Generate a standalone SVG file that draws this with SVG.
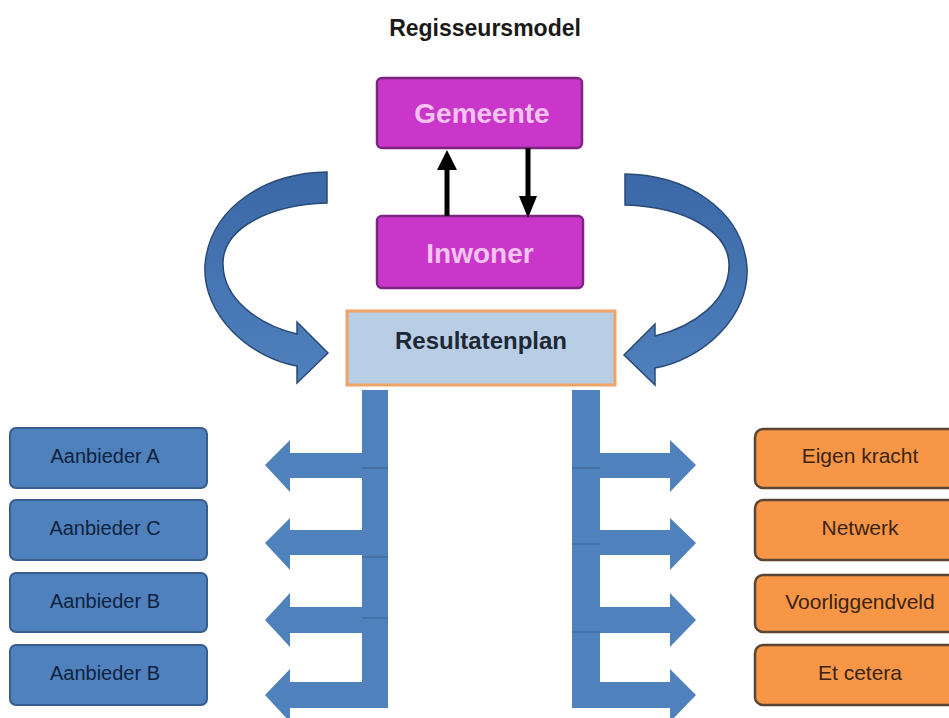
<svg xmlns="http://www.w3.org/2000/svg" width="949" height="718" viewBox="0 0 949 718">
<defs>
<style>
.title{font-family:"Liberation Sans",Arial,sans-serif;font-weight:bold;font-size:23px;fill:#1a1a1a;text-anchor:middle}
.mag{fill:#c936c9;stroke:#7d2580;stroke-width:2.5}
.magt{font-family:"Liberation Sans",Arial,sans-serif;font-weight:bold;font-size:28px;fill:#f6c4f0;text-anchor:middle}
.res{fill:#b9cde5;stroke:#eea466;stroke-width:3}
.rest{font-family:"Liberation Sans",Arial,sans-serif;font-weight:bold;font-size:24px;fill:#1c2836;text-anchor:middle}
.blue{fill:#4f81bd;stroke:#375e8d;stroke-width:2}
.bluet{font-family:"Liberation Sans",Arial,sans-serif;font-size:20px;fill:#0f2240;text-anchor:middle}
.org{fill:#f79646;stroke:#5a4533;stroke-width:2.5}
.orgt{font-family:"Liberation Sans",Arial,sans-serif;font-size:21px;fill:#3a2410;text-anchor:middle}
.barr{fill:#4f81bd}
.sep{stroke:#3a6293;stroke-width:1}
.curve{fill:url(#cg);stroke:#2a4a78;stroke-width:1.5}
</style>
<linearGradient id="cg" x1="0" y1="0" x2="0" y2="1">
<stop offset="0" stop-color="#3b68a6"/>
<stop offset="1" stop-color="#4f81bd"/>
</linearGradient>
</defs>
<rect width="949" height="718" fill="#ffffff"/>
<text class="title" x="485" y="36">Regisseursmodel</text>

<g id="gemeente">
<rect class="mag" x="377" y="78" width="205" height="70" rx="5"/>
<text class="magt" x="482" y="123">Gemeente</text>
</g>
<g id="inwoner">
<rect class="mag" x="377" y="216" width="206" height="72" rx="5"/>
<text class="magt" x="480" y="263">Inwoner</text>
</g>
<g id="resultatenplan">
<rect class="res" x="347" y="311" width="268" height="74"/>
<text class="rest" x="481" y="349">Resultatenplan</text>
</g>

<g id="aanbieder-a"><rect class="blue" x="10" y="428" width="197" height="60" rx="6"/><text class="bluet" x="105" y="463">Aanbieder A</text></g>
<g id="aanbieder-c"><rect class="blue" x="10" y="500" width="197" height="60" rx="6"/><text class="bluet" x="105" y="535">Aanbieder C</text></g>
<g id="aanbieder-b1"><rect class="blue" x="10" y="573" width="197" height="59" rx="6"/><text class="bluet" x="105" y="608">Aanbieder B</text></g>
<g id="aanbieder-b2"><rect class="blue" x="10" y="645" width="197" height="60" rx="6"/><text class="bluet" x="105" y="680">Aanbieder B</text></g>

<g id="eigen-kracht"><rect class="org" x="755" y="429" width="215" height="59" rx="8"/><text class="orgt" x="860" y="463">Eigen kracht</text></g>
<g id="netwerk"><rect class="org" x="755" y="500" width="215" height="60" rx="8"/><text class="orgt" x="860" y="535">Netwerk</text></g>
<g id="voorliggend-veld"><rect class="org" x="755" y="575" width="215" height="57" rx="8"/><text class="orgt" x="860" y="609">Voorliggendveld</text></g>
<g id="et-cetera"><rect class="org" x="755" y="645" width="215" height="60" rx="8"/><text class="orgt" x="860" y="680">Et cetera</text></g>

<g id="connectors">
<line x1="447" y1="216" x2="447" y2="166" stroke="#000" stroke-width="5"/>
<polygon points="447,150 437,170 457,170" fill="#000"/>
<line x1="528" y1="148" x2="528" y2="200" stroke="#000" stroke-width="5"/>
<polygon points="528,218 519,196 537,196" fill="#000"/>

<path class="curve" d="M327,172 C270,172 210,205 205,265 C202,315 250,358 297,366 L297,383 L328,353 L297,322 L297,334 C260,325 222,300 223,262 C224,230 265,205 327,203 Z"/>
<path class="curve" transform="translate(952,2) scale(-1,1)" d="M327,172 C270,172 210,205 205,265 C202,315 250,358 297,366 L297,383 L328,353 L297,322 L297,334 C260,325 222,300 223,262 C224,230 265,205 327,203 Z"/>

<rect class="barr" x="362" y="390" width="26" height="318"/>
<polygon class="barr" points="363,453 290,453 290,440 265,465 290,492 290,478 363,478"/>
<polygon class="barr" points="363,530 290,530 290,518 265,543 290,570 290,555 363,555"/>
<polygon class="barr" points="363,607 290,607 290,593 265,620 290,647 290,633 363,633"/>
<polygon class="barr" points="363,682 290,682 290,669 265,695 290,722 290,708 363,708"/>
<line class="sep" x1="362" y1="468" x2="388" y2="468"/>
<line class="sep" x1="362" y1="557" x2="388" y2="557"/>
<line class="sep" x1="362" y1="618" x2="388" y2="618"/>

<rect class="barr" x="572" y="390" width="28" height="318"/>
<polygon class="barr" points="599,453 670,453 670,440 696,465 670,492 670,478 599,478"/>
<polygon class="barr" points="599,530 670,530 670,518 696,543 670,570 670,555 599,555"/>
<polygon class="barr" points="599,607 670,607 670,593 696,620 670,647 670,633 599,633"/>
<polygon class="barr" points="599,682 670,682 670,669 696,695 670,722 670,708 599,708"/>
<line class="sep" x1="572" y1="468" x2="600" y2="468"/>
<line class="sep" x1="572" y1="544" x2="600" y2="544"/>
<line class="sep" x1="572" y1="632" x2="600" y2="632"/>
</g>
</svg>
